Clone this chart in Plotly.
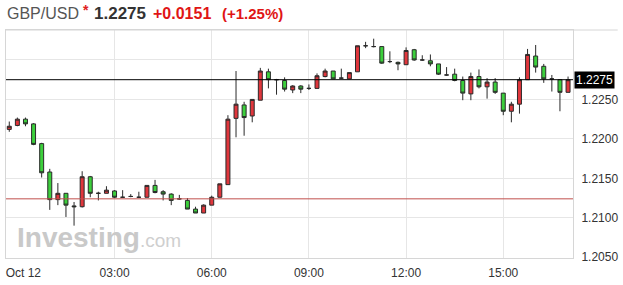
import plotly.graph_objects as go
import pandas as pd

# 15-minute candles, GBP/USD, 2016-10-11 23:45 .. 2016-10-12 17:00
times = pd.date_range("2016-10-11 23:45", periods=70, freq="15min")

opens = [1.2212, 1.2217, 1.2225, 1.2219, 1.2194, 1.2158, 1.2123, 1.2131, 1.2115, 1.2114,
         1.2152, 1.2131, 1.2131, 1.2134, 1.2126, 1.2127, 1.2126, 1.2126, 1.2141, 1.2133,
         1.2130, 1.2124, 1.2122, 1.2111, 1.2106, 1.2116, 1.2126, 1.2142, 1.2226, 1.2243,
         1.2229, 1.2249, 1.2285, 1.2275, 1.2274, 1.2262, 1.2267, 1.2264, 1.2264, 1.2279,
         1.2286, 1.2277, 1.2276, 1.2285, 1.2318, 1.2317, 1.2317, 1.2298, 1.2297, 1.2294,
         1.2313, 1.2300, 1.2299, 1.2295, 1.2281, 1.2282, 1.2274, 1.2257, 1.2279, 1.2266,
         1.2272, 1.2258, 1.2235, 1.2244, 1.2275, 1.2305, 1.2292, 1.2276, 1.2275, 1.2259]
highs = [1.2222, 1.2227, 1.2227, 1.2220, 1.2195, 1.2162, 1.2144, 1.2131, 1.2120, 1.2159,
         1.2153, 1.2133, 1.2140, 1.2135, 1.2135, 1.2130, 1.2133, 1.2141, 1.2148, 1.2135,
         1.2131, 1.2129, 1.2125, 1.2114, 1.2117, 1.2128, 1.2143, 1.2230, 1.2286, 1.2247,
         1.2250, 1.2290, 1.2289, 1.2276, 1.2278, 1.2268, 1.2268, 1.2269, 1.2283, 1.2289,
         1.2286, 1.2289, 1.2284, 1.2318, 1.2323, 1.2327, 1.2317, 1.2311, 1.2298, 1.2316,
         1.2314, 1.2306, 1.2307, 1.2295, 1.2291, 1.2289, 1.2279, 1.2284, 1.2288, 1.2277,
         1.2277, 1.2258, 1.2247, 1.2278, 1.2314, 1.2319, 1.2295, 1.2281, 1.2275, 1.2279]
lows = [1.2209, 1.2216, 1.2216, 1.2192, 1.2151, 1.2110, 1.2116, 1.2101, 1.2090, 1.2113,
        1.2126, 1.2122, 1.2131, 1.2125, 1.2126, 1.2126, 1.2126, 1.2126, 1.2131, 1.2122,
        1.2116, 1.2123, 1.2111, 1.2106, 1.2106, 1.2116, 1.2126, 1.2142, 1.2202, 1.2204,
        1.2221, 1.2249, 1.2264, 1.2256, 1.2260, 1.2258, 1.2258, 1.2262, 1.2264, 1.2278,
        1.2276, 1.2276, 1.2276, 1.2285, 1.2315, 1.2316, 1.2295, 1.2296, 1.2287, 1.2294,
        1.2299, 1.2299, 1.2292, 1.2281, 1.2280, 1.2273, 1.2249, 1.2249, 1.2264, 1.2251,
        1.2257, 1.2230, 1.2221, 1.2232, 1.2275, 1.2284, 1.2271, 1.2260, 1.2235, 1.2259]
closes = [1.2216, 1.2225, 1.2219, 1.2193, 1.2157, 1.2123, 1.2131, 1.2116, 1.2114, 1.2152,
          1.2131, 1.2131, 1.2135, 1.2126, 1.2126, 1.2127, 1.2126, 1.2141, 1.2132, 1.2130,
          1.2122, 1.2124, 1.2111, 1.2106, 1.2116, 1.2126, 1.2143, 1.2225, 1.2244, 1.2227,
          1.2250, 1.2286, 1.2275, 1.2275, 1.2263, 1.2267, 1.2263, 1.2264, 1.2280, 1.2286,
          1.2276, 1.2277, 1.2284, 1.2318, 1.2318, 1.2317, 1.2296, 1.2298, 1.2295, 1.2312,
          1.2300, 1.2300, 1.2295, 1.2282, 1.2281, 1.2274, 1.2258, 1.2279, 1.2266, 1.2272,
          1.2259, 1.2235, 1.2244, 1.2275, 1.2307, 1.2291, 1.2276, 1.2276, 1.2259, 1.2275]

last_price = 1.2275
prev_close = 1.2124
y_tickvals = [1.2050, 1.2100, 1.2150, 1.2200, 1.2250, 1.2300]
y_ticktext = ["1.2050", "1.2100", "1.2150", "1.2200", "1.2250", ""]
x_gridvals = ["2016-10-12 03:00", "2016-10-12 06:00", "2016-10-12 09:00",
              "2016-10-12 12:00", "2016-10-12 15:00"]
x_tickvals = ["2016-10-12 00:11"] + x_gridvals
x_ticktext = ["Oct 12", "03:00", "06:00", "09:00", "12:00", "15:00"]

W, H = 623, 285
L, R, T, B = 5, 47, 30, 26
PW, PH = W - L - R, H - T - B

def px(x):
    return (x - L) / PW

def py(y):
    return (H - B - y) / PH

FONT = "Liberation Sans, Arial, sans-serif"

fig = go.Figure(go.Candlestick(
    x=times, open=opens, high=highs, low=lows, close=closes,
    increasing=dict(fillcolor="#e0363c", line=dict(color="#2a2a2a", width=1)),
    decreasing=dict(fillcolor="#3ccf3c", line=dict(color="#2a2a2a", width=1)),
    whiskerwidth=0, showlegend=False, hoverinfo="x+y",
))

fig.update_layout(
    width=W, height=H, margin=dict(l=L, r=R, t=T, b=B),
    paper_bgcolor="white", plot_bgcolor="white",
    font=dict(family=FONT, size=12, color="#333333"),
    showlegend=False,
)
fig.update_xaxes(
    range=["2016-10-11 23:38:56", "2016-10-12 17:09:10"],
    rangeslider_visible=False,
    tickmode="array", tickvals=x_tickvals, ticktext=x_ticktext,
    showgrid=False, ticks="", ticklabelstandoff=4,
    minor=dict(tickmode="array", tickvals=x_gridvals, showgrid=True,
               gridcolor="#e6e6e6", gridwidth=1, ticks=""),
    showline=True, linecolor="#d6d6d6", linewidth=1, mirror=True,
    zeroline=False, tickfont=dict(size=12, color="#333333"),
)
fig.update_yaxes(
    side="right", range=[1.2049, 1.2338],
    tickmode="array", tickvals=y_tickvals, ticktext=y_ticktext,
    showgrid=True, gridcolor="#e6e6e6", gridwidth=1, ticks="",
    ticklabelstandoff=5, showline=True, linecolor="#d6d6d6", mirror=True,
    zeroline=False, tickfont=dict(size=12, color="#333333"),
)

# reference lines
fig.add_shape(type="line", xref="paper", yref="y", x0=0, x1=1,
              y0=prev_close, y1=prev_close, line=dict(color="#c0504d", width=1))
fig.add_shape(type="line", xref="paper", yref="y", x0=0, x1=1,
              y0=last_price, y1=last_price, line=dict(color="#000000", width=1))
# header separator
fig.add_shape(type="line", xref="paper", yref="paper", x0=0, x1=px(621),
              y0=1, y1=1, line=dict(color="#d6d6d6", width=1))

# last price box
fig.add_annotation(xref="paper", yref="y", x=1, y=last_price, xanchor="left",
                   yanchor="middle", text="1.2275", showarrow=False,
                   bgcolor="#000000", borderpad=1, xshift=1,
                   font=dict(family=FONT, size=12, color="white"))

# header
hdr_y = py(13)
fig.add_annotation(xref="paper", yref="paper", x=px(4), y=hdr_y, xanchor="left",
                   yanchor="middle", text="GBP/USD", showarrow=False,
                   font=dict(family=FONT, size=16, color="#555555"))
fig.add_annotation(xref="paper", yref="paper", x=px(81), y=py(10), xanchor="left",
                   yanchor="middle", text="<b>*</b>", showarrow=False,
                   font=dict(family=FONT, size=14, color="#e02020"))
fig.add_annotation(xref="paper", yref="paper", x=px(92), y=hdr_y, xanchor="left",
                   yanchor="middle", text="<b>1.2275</b>", showarrow=False,
                   font=dict(family=FONT, size=17, color="#333333"))
fig.add_annotation(xref="paper", yref="paper", x=px(151), y=hdr_y, xanchor="left",
                   yanchor="middle", text="<b>+0.0151</b>", showarrow=False,
                   font=dict(family=FONT, size=16, color="#e01515"))
fig.add_annotation(xref="paper", yref="paper", x=px(221), y=hdr_y, xanchor="left",
                   yanchor="middle", text="<b>(+1.25%)</b>", showarrow=False,
                   font=dict(family=FONT, size=15, color="#e01515"))

# watermark
fig.add_annotation(xref="paper", yref="paper", x=px(14), y=py(238), xanchor="left",
                   yanchor="middle", text="<b>Investing</b>", showarrow=False,
                   font=dict(family=FONT, size=28, color="#c9c9c9"))
fig.add_annotation(xref="paper", yref="paper", x=px(138), y=py(241), xanchor="left",
                   yanchor="middle", text=".com", showarrow=False,
                   font=dict(family=FONT, size=19, color="#cfcfcf"))

fig.write_html("out.html")
